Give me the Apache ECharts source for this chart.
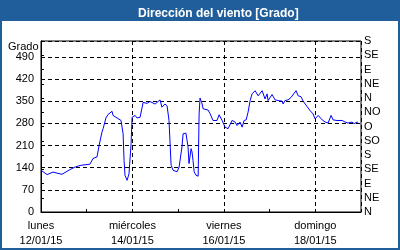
<!DOCTYPE html>
<html>
<head>
<meta charset="utf-8">
<script src="https://cdn.jsdelivr.net/npm/echarts@6/dist/echarts.min.js"></script>
<style>
html,body{margin:0;padding:0;background:#1f5e9a;}
#c{width:400px;height:250px;}
</style>
</head>
<body>
<div id="c"></div>
<script>
// hours since Monday 12/01/15 00:00
const hours = [0,3.2,6.3,11.0,15.2,17.9,20.5,25.7,27.3,29.4,30.5,32.0,32.6,34.1,35.2,37.3,37.8,39.9,42.0,43.1,43.6,44.1,45.2,46.2,47.3,47.8,49.4,50.4,52.0,53.1,53.6,55.7,57.2,59.9,62.5,63.5,65.1,66.2,67.2,68.3,69.3,71.4,72.5,74.0,74.6,76.1,77.2,77.7,78.8,79.3,79.8,80.4,81.4,82.5,83.0,83.5,84.6,85.1,87.7,88.8,90.3,92.4,93.5,95.1,96.1,96.6,98.2,100.3,101.9,102.9,104.5,105.6,106.6,107.7,108.7,109.8,110.8,112.4,114.0,116.1,117.6,118.7,119.2,121.3,122.9,124.5,126.6,127.1,128.1,129.7,131.3,132.3,133.9,135.0,136.5,137.6,139.7,141.3,142.8,143.9,145.5,147.6,149.2,150.7,152.3,153.3,155.4,158.1,159.7,161.2,163.3,164.4,166.0,166.5];
const directions = [132,118,126,119,134,142,147,151,169,174,210,252,263,297,308,318,305,297,289,247,163,116,100,121,216,299,305,297,299,331,346,343,349,341,354,331,341,335,289,148,132,127,142,205,247,249,205,153,200,189,163,127,116,113,310,360,341,326,322,310,289,289,307,289,275,268,263,289,284,273,284,268,289,291,315,352,373,383,367,383,357,373,352,371,354,352,350,341,352,354,362,364,383,367,364,350,333,320,310,294,305,291,284,281,305,291,289,289,284,281,284,279,284,282];
const xTickLabels = ['lunes\n12/01/15','miércoles\n14/01/15','viernes\n16/01/15','domingo\n18/01/15'];
const compassLabels = ['N','NE','E','SE','S','SO','O','NO','N','NE','E','SE','S'];
const yName = 'Grado';
const titleText = 'Dirección del viento [Grado]';

const chart = echarts.init(document.getElementById('c'), null, {renderer:'canvas'});
const font = 'Liberation Sans';
const dash = {color:'#000', width:1, type:[4,3]};
chart.setOption({
  animation:false,
  backgroundColor:'#1f5e9a',
  title:{text:titleText, left:133, top:3, textStyle:{color:'#fff', fontFamily:font, fontSize:12, fontWeight:'bold'}},
  graphic:[
    {type:'rect', z:-100, shape:{x:2,y:21,width:396,height:227}, style:{fill:'#fff'}},
    {type:'text', left:8, top:41, style:{text:yName, fill:'#000', font:'11px "Liberation Sans"'}}
  ],
  grid:{left:41, right:39, top:41, bottom:38, show:true, borderColor:'#000', borderWidth:1, backgroundColor:'transparent'},
  xAxis:[
    {type:'value', min:0, max:168, interval:48, position:'bottom',
     axisLine:{show:true, lineStyle:{color:'#000'}}, axisTick:{show:false},
     splitLine:{show:true, lineStyle:dash},
     axisLabel:{margin:6, color:'#000', fontFamily:font, fontSize:11, lineHeight:15,
       formatter:v => xTickLabels[Math.round(v/48)] && v % 48 === 0 ? xTickLabels[v/48] : ''}},
    {type:'value', min:0, max:168, interval:24, position:'bottom',
     axisLine:{show:false}, axisTick:{show:true, inside:true, length:3, lineStyle:{color:'#000'}},
     splitLine:{show:false}, axisLabel:{show:false}}
  ],
  yAxis:[
    {type:'value', min:0, max:540, interval:70, position:'left',
     axisLine:{show:true, lineStyle:{color:'#000'}}, axisTick:{show:false},
     splitLine:{show:true, lineStyle:dash},
     axisLabel:{margin:7, color:'#000', fontFamily:font, fontSize:11, showMaxLabel:false,
       formatter:v => (v % 70 === 0 ? String(v) : '')}},
    {type:'value', min:0, max:540, interval:45, position:'right',
     axisLine:{show:true, lineStyle:{color:'#000'}}, axisTick:{show:true, length:3, lineStyle:{color:'#000'}},
     splitLine:{show:false},
     axisLabel:{margin:3, color:'#000', fontFamily:font, fontSize:11,
       formatter:v => compassLabels[Math.round(v/45)]}}
  ],
  series:[{
    type:'line', xAxisIndex:0, yAxisIndex:0, showSymbol:false, symbol:'none',
    lineStyle:{color:'#0000ff', width:1}, 
    data:hours.map((h,i)=>[h, directions[i]])
  }]
});
</script>
</body>
</html>
